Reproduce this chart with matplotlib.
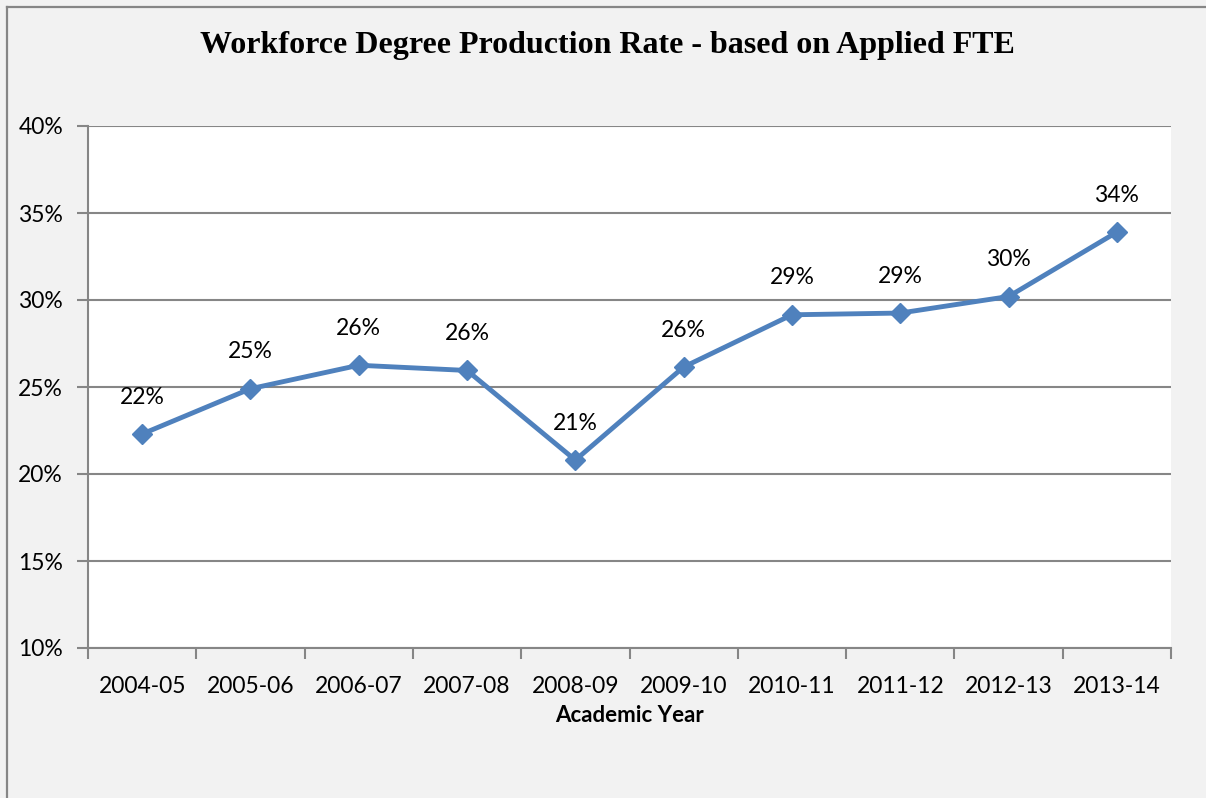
import matplotlib.pyplot as plt
from matplotlib.lines import Line2D
from matplotlib.ticker import FixedLocator, NullFormatter
import numpy as np

years = ['2004-05', '2005-06', '2006-07', '2007-08', '2008-09',
         '2009-10', '2010-11', '2011-12', '2012-13', '2013-14']
rate = [22.3, 24.9, 26.25, 25.95, 20.8, 26.15, 29.15, 29.25, 30.2, 33.9]
labels = ['22%', '25%', '26%', '26%', '21%', '26%', '29%', '29%', '30%', '34%']

plt.rcParams['font.family'] = ['Lato', 'DejaVu Sans']

fig = plt.figure(figsize=(12.06, 7.98), dpi=100)
fig.patch.set_facecolor('#f2f2f2')
# outer chart border (only top + left visible)
bx, by = 6.5 / 1206, 1 - 6.5 / 798
fig.add_artist(Line2D([bx, 1], [by, by], transform=fig.transFigure,
                      color='#868686', linewidth=1.6))
fig.add_artist(Line2D([bx, bx], [0, by], transform=fig.transFigure,
                      color='#868686', linewidth=1.6))

ax = fig.add_axes([88 / 1206, 1 - 648 / 798, (1171 - 88) / 1206, (648 - 126) / 798])
ax.set_facecolor('white')

x = np.arange(len(years))
ax.plot(x, rate, color='#4f81bd', linewidth=3.5, marker='D', markersize=10,
        markeredgecolor='#4f81bd', zorder=3)
for xi, yi, lab in zip(x, rate, labels):
    ax.annotate(lab, (xi, yi), xytext=(0, 19), textcoords='offset points',
                ha='center', va='bottom', fontsize=16.5)

ax.set_xlim(-0.5, len(years) - 0.5)
ax.set_ylim(10, 40)
ax.set_yticks(np.arange(10, 41, 5))
ax.set_yticklabels(['{}%'.format(v) for v in range(10, 41, 5)], fontsize=16.5)
ax.yaxis.grid(True, color='#868686', linewidth=1.5)
ax.set_axisbelow(True)

ax.xaxis.set_major_locator(FixedLocator(np.arange(-0.5, len(years), 1.0)))
ax.xaxis.set_major_formatter(NullFormatter())
ax.xaxis.set_minor_locator(FixedLocator(x))
ax.set_xticklabels(years, minor=True, fontsize=16.5)
ax.tick_params(axis='x', which='major', length=8, color='#868686', width=1.5)
ax.tick_params(axis='x', which='minor', length=0, pad=20)
ax.tick_params(axis='y', length=8, color='#868686', width=1.5, pad=10)

for side in ['top', 'right']:
    ax.spines[side].set_visible(False)
for side in ['left', 'bottom']:
    ax.spines[side].set_color('#868686')
    ax.spines[side].set_linewidth(1.5)

ax.set_xlabel('Academic Year', fontsize=16, fontweight='bold', labelpad=6)
fig.text(607 / 1206, 1 - 45 / 798, 'Workforce Degree Production Rate - based on Applied FTE',
         ha='center', va='center', fontsize=23, fontweight='bold',
         family='Liberation Serif')

fig.savefig('out.png', dpi=100, facecolor=fig.get_facecolor())
